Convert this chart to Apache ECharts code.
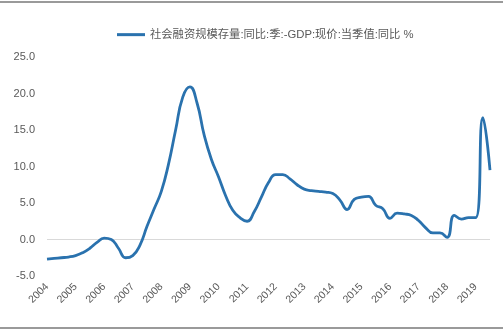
<!DOCTYPE html>
<html>
<head>
<meta charset="utf-8">
<script src="https://cdn.jsdelivr.net/npm/echarts@6/dist/echarts.min.js"></script>
<style>
  html, body { margin: 0; padding: 0; background: #fff; }
  #chart { width: 503px; height: 331px; }
</style>
</head>
<body>
<div id="chart"></div>
<script>
// Quarterly periods, 2004Q1 .. 2019Q3
const quarters = [];
for (let y = 2004; y <= 2019; y++) {
  for (let q = 1; q <= 4; q++) {
    if (y === 2019 && q > 3) break;
    quarters.push(y + 'Q' + q);
  }
}

// 社融存量同比 minus 名义GDP同比, percentage points
const spread = [
  -2.7, -2.6, -2.5, -2.4,
  -2.2, -1.8, -1.2, -0.4,
   0.2,  0.0, -1.2, -2.5,
  -2.2, -0.8,  1.8,  4.2,
   6.6, 10.3, 15.0, 19.5,
  20.9, 18.7, 14.3, 11.0,
   8.6,  6.0,  4.0,  3.0,
   2.5,  3.8,  5.8,  7.8,
   8.9,  8.9,  8.3,  7.5,
   6.9,  6.7,  6.6,  6.5,
   6.3,  5.4,  4.1,  5.5,
   5.8,  5.9,  4.7,  4.2,
   2.9,  3.6,  3.5,  3.3,
   2.6,  1.6,  0.9,  0.9,
   0.3,  3.3,  2.8,  3.0,
   3.0, 16.7,  9.5
];

const yTicks = { min: -5, max: 25, step: 5 };
const seriesName = '社会融资规模存量:同比:季:-GDP:现价:当季值:同比 %';

const font = '"Liberation Sans", "Noto Sans CJK SC", sans-serif';
const textGray = '#595959';
const lineBlue = '#2a72ae';

const chart = echarts.init(document.getElementById('chart'), null, { renderer: 'canvas' });
chart.setOption({
  animation: false,
  backgroundColor: '#fff',
  textStyle: { fontFamily: font },
  graphic: [
    { type: 'rect', shape: { x: 0, y: 1, width: 503, height: 2 }, style: { fill: '#9a9a9a' } },
    { type: 'rect', shape: { x: 0, y: 327, width: 503, height: 2 }, style: { fill: '#9a9a9a' } }
  ],
  legend: {
    top: 24,
    left: 112,
    icon: 'rect',
    itemWidth: 28,
    itemHeight: 3,
    itemGap: 4,
    textStyle: { color: textGray, fontSize: 11.3, fontFamily: font },
    data: [seriesName]
  },
  grid: { left: 47, right: 13, top: 57, bottom: 55, containLabel: false },
  xAxis: {
    type: 'category',
    data: quarters,
    boundaryGap: false,
    axisLine: { show: false, onZero: false },
    axisTick: { show: false },
    axisLabel: {
      interval: 3,
      rotate: 45,
      margin: 9,
      color: textGray,
      fontSize: 10.5,
      fontFamily: font,
      formatter: v => v.slice(0, 4)
    },
    splitLine: { show: false }
  },
  yAxis: {
    type: 'value',
    min: yTicks.min,
    max: yTicks.max,
    interval: yTicks.step,
    axisLine: { show: false },
    axisTick: { show: false },
    splitLine: { show: false },
    axisLabel: {
      color: textGray,
      fontSize: 11,
      margin: 12,
      fontFamily: font,
      formatter: v => v.toFixed(1)
    }
  },
  series: [{
    name: seriesName,
    type: 'line',
    data: spread,
    smooth: 0.5,
    showSymbol: false,
    symbol: 'none',
    lineStyle: { color: lineBlue, width: 2.8 },
    itemStyle: { color: lineBlue },
    z: 3,
    markLine: {
      silent: true,
      symbol: 'none',
      label: { show: false },
      lineStyle: { color: '#d9d9d9', width: 1, type: 'solid' },
      data: [{ yAxis: 0 }],
      z: 1
    }
  }]
});
</script>
</body>
</html>
